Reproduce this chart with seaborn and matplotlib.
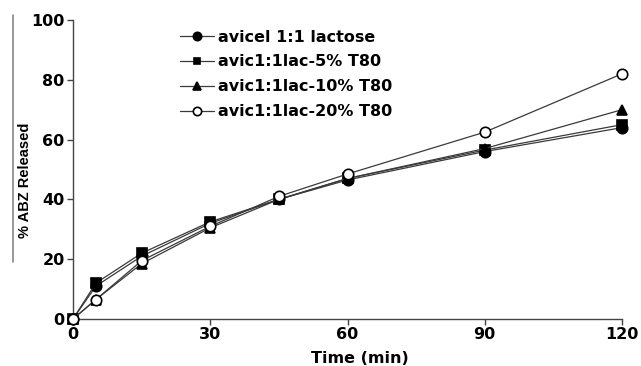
import matplotlib
matplotlib.use("Agg")
import matplotlib.pyplot as plt
import seaborn as sns
import pandas as pd
from matplotlib.lines import Line2D

time = [0, 5, 15, 30, 45, 60, 90, 120]
avicel_lactose = [0, 11.0, 21.0, 32.0, 40.0, 46.5, 56.0, 64.0]
lac_5 = [0, 12.0, 22.0, 32.5, 40.0, 47.0, 56.5, 65.0]
lac_10 = [0, 6.5, 18.5, 30.5, 40.0, 47.0, 57.0, 70.0]
lac_20 = [0, 6.5, 19.5, 31.0, 41.0, 48.5, 62.5, 82.0]
labels = ["avicel 1:1 lactose", "avic1:1lac-5% T80", "avic1:1lac-10% T80", "avic1:1lac-20% T80"]
xticks = [0, 30, 60, 90, 120]
yticks = [0, 20, 40, 60, 80, 100]

sns.set_theme(style="ticks")
plt.rcParams["font.family"] = ["DejaVu Sans"]
plt.rcParams["font.weight"] = "bold"
plt.rcParams["text.color"] = "black"
plt.rcParams["xtick.labelcolor"] = "black"
plt.rcParams["ytick.labelcolor"] = "black"
plt.rcParams["axes.labelcolor"] = "black"

fig = plt.figure(figsize=(6.41, 3.66), dpi=100)
ax = fig.add_axes([73/641, 1-319/366, (622-73)/641, (319-20)/366])

series = [avicel_lactose, lac_5, lac_10, lac_20]
styles = [
    dict(marker="o", mfc="black", ms=7.5),
    dict(marker="s", mfc="black", ms=6.5),
    dict(marker="^", mfc="black", ms=7),
    dict(marker="o", mfc="white", ms=7.5),
]
for vals, lab, st in zip(series, labels, styles):
    df = pd.DataFrame({"Time": time, "Release": vals})
    sns.lineplot(data=df, x="Time", y="Release", ax=ax, color="#3a3a3a", lw=0.9,
                 marker=st["marker"], markersize=st["ms"], markerfacecolor=st["mfc"],
                 markeredgecolor="black", markeredgewidth=1.2, clip_on=False, zorder=3)

ax.set_xlim(0, 120)
ax.set_ylim(0, 100)
ax.set_xticks(xticks)
ax.set_yticks(yticks)
ax.set_xlabel("Time (min)", fontsize=11.5, fontweight="bold")
ax.xaxis.set_label_coords((360-73)/549, -0.107)
ax.set_ylabel("% ABZ Released", fontsize=10.5, fontweight="bold",
              family=["Liberation Sans", "DejaVu Sans"])
ax.yaxis.set_label_coords(-0.0747, 0.465)
ax.tick_params(axis="both", labelsize=11.5, length=4, width=1, color="#444444", pad=2)
for lbl in ax.get_xticklabels() + ax.get_yticklabels():
    lbl.set_fontweight("bold")
sns.despine(ax=ax)
for s in ["left", "bottom"]:
    ax.spines[s].set_color("#444444")
    ax.spines[s].set_linewidth(1.0)

handles = [Line2D([], [], color="#3a3a3a", lw=0.9, marker=st["marker"], markersize=st["ms"] - 1.5,
                  markerfacecolor=st["mfc"], markeredgecolor="black", markeredgewidth=1.2)
           for st in styles]
ax.legend(handles, labels, loc="upper left", bbox_to_anchor=(0.169, 1.016), frameon=False,
          prop={"weight": "bold", "size": 11.5}, handlelength=2.1, handletextpad=0.3,
          labelspacing=0.62)

fig.add_artist(Line2D([13/641, 13/641], [1-262/366, 1-15/366], color="#888888", lw=1.2))

fig.savefig("out.png", dpi=100)
